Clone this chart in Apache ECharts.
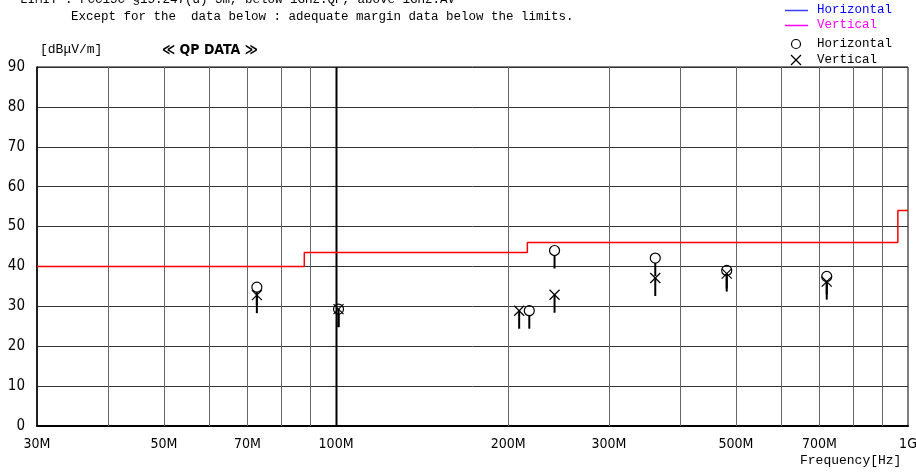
<!DOCTYPE html>
<html><head><meta charset="utf-8">
<script src="https://cdn.jsdelivr.net/npm/echarts@6/dist/echarts.min.js"></script>
<style>html,body{margin:0;padding:0;background:#fff}#c{width:916px;height:472px}</style>
</head><body><div id="c"></div>
<script>
// ---- data ----
const xTickLabels = ['30M','50M','70M','100M','200M','300M','500M','700M','1G'];
const xTickValues = [30,50,70,100,200,300,500,700,1000];
const gridFreqs = [40,50,60,70,80,90,100,200,300,400,500,600,700,800,900];
const limitFreq  = [30,88,88,216,216,960,960,1000];
const limitLevel = [40,40,43.5,43.5,46,46,54,54];
const horFreq = [72.7,101,217.7,241,361.5,482,721];
const horQP   = [34.8,29.3,28.9,44.0,42.1,39.0,37.5];
const verFreq = [72.7,101,209,241,361.5,482,721];
const verQP   = [32.8,29.3,28.9,32.9,37.1,38.2,36.2];

const NARROW = '"Liberation Sans Narrow","DejaVu Sans Condensed","Arial Narrow",sans-serif';
const MONO = '"Liberation Mono","DejaVu Sans Mono",monospace';
const STICK = 18;

const chart = echarts.init(document.getElementById('c'), null, {renderer:'canvas'});
chart.setOption({
  animation:false,
  backgroundColor:'#fff',
  grid:{left:37,right:8,top:67,bottom:46,show:true,borderColor:'#000',borderWidth:1,backgroundColor:'transparent'},
  xAxis:{type:'log',logBase:10,min:30,max:1000,
    axisLine:{show:true,onZero:false,lineStyle:{color:'#000',width:2}},
    axisTick:{show:false},axisLabel:{show:false},splitLine:{show:false},minorTick:{show:false}},
  yAxis:{type:'value',min:0,max:90,interval:10,
    axisLine:{show:true,lineStyle:{color:'#000',width:1.5}},
    axisTick:{show:false},
    axisLabel:{color:'#000',fontSize:15,fontFamily:NARROW,margin:12},
    splitLine:{show:true,lineStyle:{color:'#333',width:1}}},
  series:[
    { type:'custom', name:'grid', silent:true, z:1,
      data: gridFreqs.map(f=>[f,0]),
      renderItem:(p,api)=>{
        const f=api.value(0);
        const a=api.coord([f,90]), b=api.coord([f,0]);
        const strong = f===100;
        return {type:'line',shape:{x1:Math.round(a[0])+0.5,y1:a[1],x2:Math.round(b[0])+0.5,y2:b[1]},
          style:{stroke:strong?'#000':'#666',lineWidth:strong?2:1}};
      }},
    { type:'custom', name:'xlabels', silent:true, z:5,
      data: xTickValues.map((v,i)=>[v,0,i]),
      renderItem:(p,api)=>{
        const c=api.coord([api.value(0),0]);
        return {type:'text',x:c[0],y:c[1]+18,
          style:{text:xTickLabels[api.value(2)],fill:'#000',font:'14px '+NARROW,align:'center',verticalAlign:'middle'}};
      }},
    { type:'line', name:'Limit', data: limitFreq.map((f,i)=>[f,limitLevel[i]]),
      symbol:'none', z:3, lineStyle:{color:'#ff0000',width:1.5}},
    { type:'custom', name:'Horizontal QP', z:6,
      data: horFreq.map((f,i)=>[f,horQP[i]]),
      renderItem:(p,api)=>{
        const c=api.coord([api.value(0),api.value(1)]);
        return {type:'group',children:[
          {type:'circle',shape:{cx:c[0],cy:c[1],r:5},style:{fill:'none',stroke:'#000',lineWidth:1.2}},
          {type:'line',shape:{x1:c[0],y1:c[1]+5,x2:c[0],y2:c[1]+STICK},style:{stroke:'#000',lineWidth:2}}
        ]};
      }},
    { type:'custom', name:'Vertical QP', z:6,
      data: verFreq.map((f,i)=>[f,verQP[i]]),
      renderItem:(p,api)=>{
        const c=api.coord([api.value(0),api.value(1)]);
        const s=5;
        return {type:'group',children:[
          {type:'line',shape:{x1:c[0]-s,y1:c[1]-s,x2:c[0]+s,y2:c[1]+s},style:{stroke:'#000',lineWidth:1.2}},
          {type:'line',shape:{x1:c[0]+s,y1:c[1]-s,x2:c[0]-s,y2:c[1]+s},style:{stroke:'#000',lineWidth:1.2}},
          {type:'line',shape:{x1:c[0],y1:c[1],x2:c[0],y2:c[1]+STICK},style:{stroke:'#000',lineWidth:2}}
        ]};
      }}
  ],
  graphic:[
    {type:'text',left:20,top:-7,style:{text:'LIMIT : FCC15C \u00a715.247(d) 3m, below 1GHz:QP, above 1GHz:AV',fill:'#000',font:'12.5px '+MONO}},
    {type:'text',left:71,top:10,style:{text:'Except for the  data below : adequate margin data below the limits.',fill:'#000',font:'12.5px '+MONO}},
    {type:'text',left:40,top:43,style:{text:'[dB\u03bcV/m]',fill:'#000',font:'13px '+MONO}},
    {type:'text',left:162,top:43,style:{text:'\u226a QP DATA \u226b',fill:'#000',font:'bold 14px '+NARROW}},
    {type:'text',left:800,top:454,style:{text:'Frequency[Hz]',fill:'#000',font:'13px '+MONO}},
    {type:'line',shape:{x1:785,y1:10.5,x2:808,y2:10.5},style:{stroke:'#3b3bff',lineWidth:1.5}},
    {type:'text',left:817,top:3,style:{text:'Horizontal',fill:'#0000ff',font:'12.5px '+MONO}},
    {type:'line',shape:{x1:785,y1:25.5,x2:808,y2:25.5},style:{stroke:'#ff00ff',lineWidth:1.5}},
    {type:'text',left:817,top:18,style:{text:'Vertical',fill:'#ff00ff',font:'12.5px '+MONO}},
    {type:'circle',shape:{cx:796,cy:44,r:4.5},style:{fill:'none',stroke:'#000',lineWidth:1.2}},
    {type:'text',left:817,top:37,style:{text:'Horizontal',fill:'#000',font:'12.5px '+MONO}},
    {type:'line',shape:{x1:791,y1:55,x2:801,y2:65},style:{stroke:'#000',lineWidth:1.2}},
    {type:'line',shape:{x1:801,y1:55,x2:791,y2:65},style:{stroke:'#000',lineWidth:1.2}},
    {type:'text',left:817,top:53,style:{text:'Vertical',fill:'#000',font:'12.5px '+MONO}}
  ]
});
</script></body></html>
